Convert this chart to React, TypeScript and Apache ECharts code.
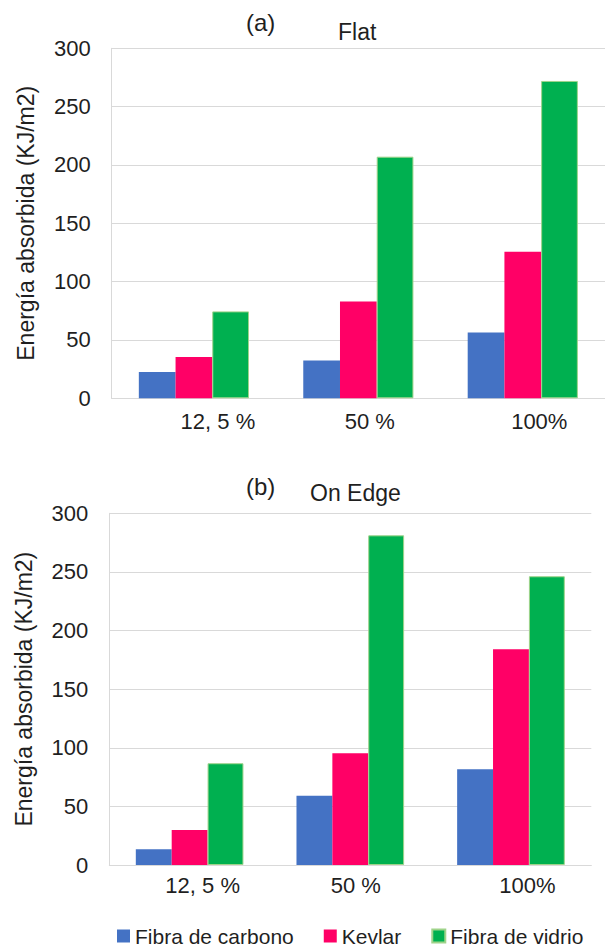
import React, { useEffect, useRef } from "react";
import * as echarts from "echarts";

const categories = ["12, 5 %", "50 %", "100%"];
const seriesNames = ["Fibra de carbono", "Kevlar", "Fibra de vidrio"];
const flatCarbono = [22.5, 32.3, 56.5];
const flatKevlar = [35.4, 83, 125.7];
const flatVidrio = [74.5, 207.1, 272];
const edgeCarbono = [13.4, 59.1, 81.6];
const edgeKevlar = [29.9, 95.3, 184];
const edgeVidrio = [86.8, 281.2, 246.3];
const yTicks = { min: 0, max: 300, interval: 50 };

const colors = ["#4472C4", "#FF0066", "#00B050"];
const FONT = "Liberation Sans, Arial, sans-serif";
const TXT = "#1f1f1f";

export default function App() {
  const ref = useRef<HTMLDivElement>(null);
  useEffect(() => {
    if (!ref.current) return;
    const chart = echarts.init(ref.current, undefined, { renderer: "svg" });
    const labelPadA = [48, 23, 33];
    const labelPadB = [26, 11, 33];
    const mkX = (gridIndex: number, pads: number[]) => ({
      type: "category",
      gridIndex,
      data: categories.map((c, i) => ({
        value: c,
        textStyle: { padding: [0, 0, 0, pads[i]] },
      })),
      axisLine: { show: true, lineStyle: { color: "#d9d9d9", width: 1 } },
      axisTick: { show: false },
      axisLabel: {
        color: TXT,
        fontFamily: FONT,
        fontSize: 22,
        margin: gridIndex === 0 ? 12 : 9,
      },
    });
    const mkY = (gridIndex: number) => ({
      type: "value",
      gridIndex,
      min: yTicks.min,
      max: yTicks.max,
      interval: yTicks.interval,
      name: "Energía absorbida (KJ/m2)",
      nameLocation: "middle",
      nameGap: 74,
      nameTextStyle: { color: TXT, fontFamily: FONT, fontSize: 23 },
      axisLine: { show: true, lineStyle: { color: "#d9d9d9", width: 1 } },
      axisTick: { show: false },
      axisLabel: { color: TXT, fontFamily: FONT, fontSize: 22, margin: 21 },
      splitLine: { show: true, lineStyle: { color: "#d9d9d9", width: 1 } },
    });
    const mkBar = (name: string, data: number[], idx: number, k: number) => ({
      type: "bar",
      name,
      xAxisIndex: idx,
      yAxisIndex: idx,
      data,
      barGap: "0%",
      barCategoryGap: "33%",
      itemStyle: {
        color: colors[k],
        borderColor: k === 2 ? "#9fd38a" : undefined,
        borderWidth: k === 2 ? 1 : 0,
      },
    });
    const titleStyle = (size: number) => ({
      fontFamily: FONT,
      fontSize: size,
      fontWeight: "normal",
      color: TXT,
    });
    chart.setOption({
      animation: false,
      backgroundColor: "#ffffff",
      title: [
        { text: "(a)", left: 241, top: 5, textStyle: titleStyle(24) },
        { text: "Flat", left: 333, top: 15, textStyle: titleStyle(23) },
        { text: "(b)", left: 241, top: 469, textStyle: titleStyle(24) },
        { text: "On Edge", left: 305, top: 476, textStyle: titleStyle(23) },
      ],
      legend: {
        data: seriesNames,
        left: 112,
        top: 920,
        itemWidth: 13,
        itemHeight: 13,
        itemGap: 30,
        icon: "rect",
        textStyle: { color: TXT, fontFamily: FONT, fontSize: 21, lineHeight: 22 },
      },
      grid: [
        { left: 111.7, top: 48.3, width: 498.7, height: 350, containLabel: false },
        { left: 109.3, top: 513.3, width: 482, height: 351.7, containLabel: false },
      ],
      xAxis: [mkX(0, labelPadA), mkX(1, labelPadB)],
      yAxis: [mkY(0), mkY(1)],
      series: [
        mkBar(seriesNames[0], flatCarbono, 0, 0),
        mkBar(seriesNames[1], flatKevlar, 0, 1),
        mkBar(seriesNames[2], flatVidrio, 0, 2),
        mkBar(seriesNames[0], edgeCarbono, 1, 0),
        mkBar(seriesNames[1], edgeKevlar, 1, 1),
        mkBar(seriesNames[2], edgeVidrio, 1, 2),
      ],
    });
    return () => chart.dispose();
  }, []);
  return (
    <div
      ref={ref}
      style={{ position: "absolute", left: 0, top: 0, width: 605, height: 946 }}
    />
  );
}
